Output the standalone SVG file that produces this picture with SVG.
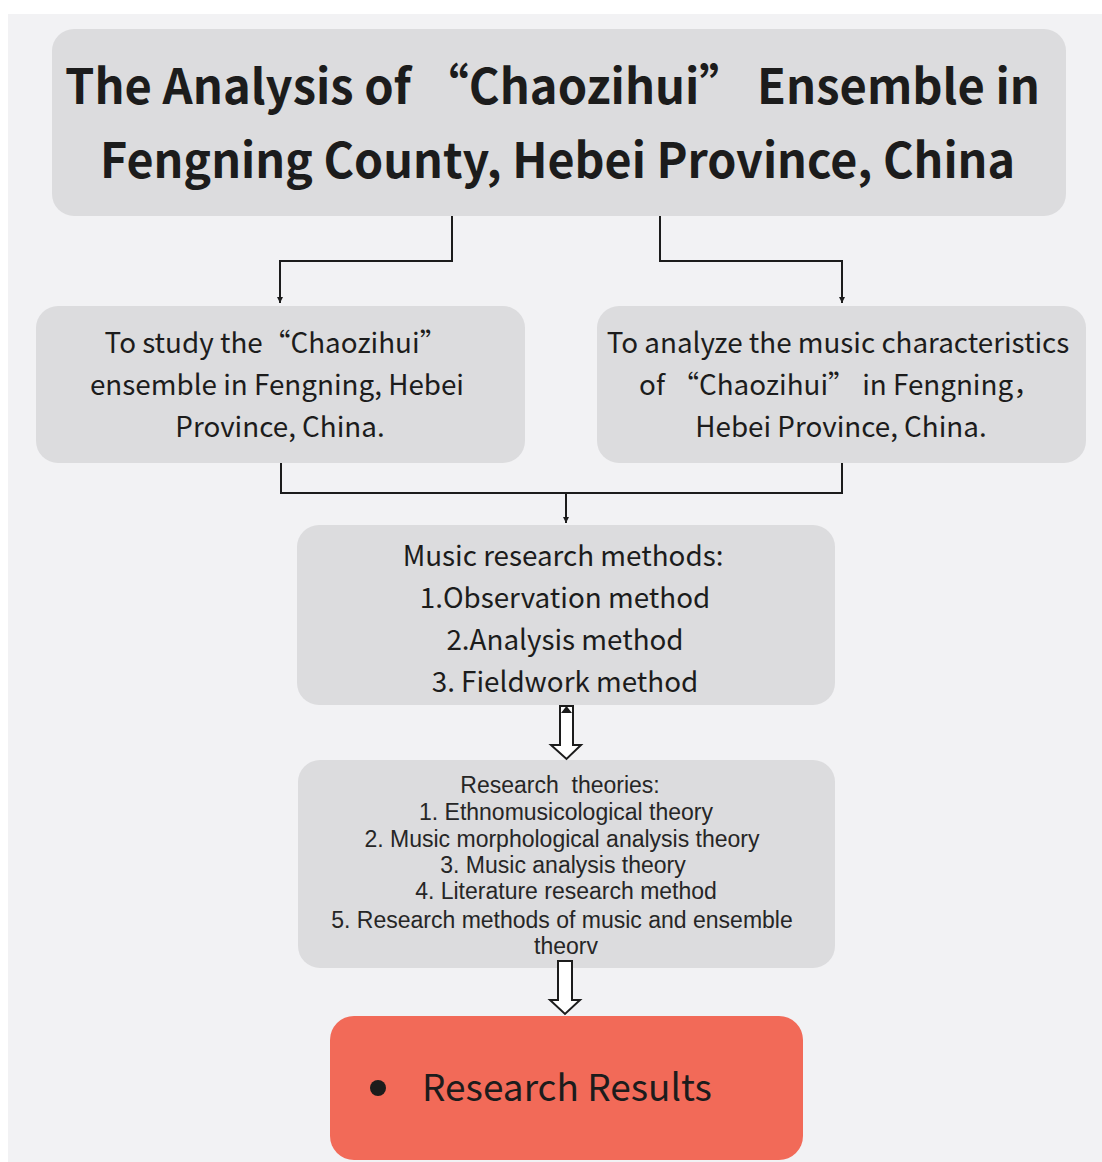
<svg xmlns="http://www.w3.org/2000/svg" width="1102" height="1162" viewBox="0 0 1102 1162">
<defs>
<style>
.box{fill:#dcdcde;}
.res{fill:#f26a58;}
.cjk{font-family:"Noto Sans CJK SC","Noto Sans",sans-serif;fill:#1c1c1c;text-anchor:middle;}
.title{font-size:48px;font-weight:700;}
.mid{font-size:27.8px;}
.thr{font-family:"Liberation Sans",Arial,sans-serif;font-size:23px;fill:#262626;text-anchor:middle;}
.conn{fill:none;stroke:#1c1c1c;stroke-width:2;}
.hollow{fill:#ffffff;stroke:#1c1c1c;stroke-width:2;stroke-linejoin:miter;}
</style>
<marker id="ah" viewBox="0 0 10 10" refX="10" refY="5" markerWidth="6" markerHeight="6" markerUnits="userSpaceOnUse" orient="auto">
<path d="M0,0 L10,5 L0,10 z" fill="#1c1c1c"/>
</marker>
</defs>
<rect x="0" y="0" width="1102" height="1162" fill="#ffffff"/>
<rect x="8" y="14" width="1094" height="1148" fill="#f2f2f4"/>

<g id="title">
<rect class="box" x="52" y="29" width="1014" height="187" rx="22"/>
<text class="cjk title" x="552.5" y="104" textLength="975" lengthAdjust="spacingAndGlyphs">The Analysis of “Chaozihui” Ensemble in</text>
<text class="cjk title" x="557.5" y="178" textLength="915" lengthAdjust="spacingAndGlyphs">Fengning County, Hebei Province, China</text>
</g>

<g id="objective1">
<rect class="box" x="36" y="306" width="489" height="157" rx="22"/>
<text class="cjk mid" x="276" y="353">To study the“Chaozihui”</text>
<text class="cjk mid" x="277" y="395">ensemble in Fengning, Hebei</text>
<text class="cjk mid" x="280" y="437">Province, China.</text>
</g>

<g id="objective2">
<rect class="box" x="597" y="306" width="489" height="157" rx="22"/>
<text class="cjk mid" x="838" y="353">To analyze the music characteristics</text>
<text class="cjk mid" x="840" y="395">of “Chaozihui” in Fengning，</text>
<text class="cjk mid" x="841" y="437">Hebei Province, China.</text>
</g>

<g id="methods">
<rect class="box" x="297" y="525" width="538" height="180" rx="22"/>
<text class="cjk mid" x="563" y="566">Music research methods:</text>
<text class="cjk mid" x="565" y="608">1.Observation method</text>
<text class="cjk mid" x="565" y="650">2.Analysis method</text>
<text class="cjk mid" x="565" y="692">3. Fieldwork method</text>
</g>

<g id="theories">
<rect class="box" x="298" y="760" width="537" height="208" rx="22"/>
<text class="thr" x="560" y="793" xml:space="preserve">Research  theories:</text>
<text class="thr" x="566" y="820">1. Ethnomusicological theory</text>
<text class="thr" x="562" y="847">2. Music morphological analysis theory</text>
<text class="thr" x="563" y="873">3. Music analysis theory</text>
<text class="thr" x="566" y="899">4. Literature research method</text>
<text class="thr" x="562" y="928">5. Research methods of music and ensemble</text>
<text class="thr" x="566" y="954">theorv</text>
</g>

<g id="results">
<rect class="res" x="330" y="1016" width="473" height="144" rx="24"/>
<circle cx="378" cy="1088" r="8" fill="#1c1c1c"/>
<text class="cjk" x="422" y="1101" style="font-size:37px;text-anchor:start">Research Results</text>
</g>

<g id="connectors">
<path class="conn" d="M452,216 V261 H280 V303" marker-end="url(#ah)"/>
<path class="conn" d="M660,216 V261 H842 V303" marker-end="url(#ah)"/>
<path class="conn" d="M281,463 V493 H842 V463"/>
<path class="conn" d="M566,493 V523" marker-end="url(#ah)"/>
<path class="hollow" d="M560,706 H573 V745 H581 L566.5,759 L551,745 H560 Z"/>
<path d="M561,713 L566.5,706 L572,713 Z" fill="#1c1c1c"/>
<path class="hollow" d="M558,961 H572 V1000 H580 L565,1014 L550,1000 H558 Z"/>
</g>
</svg>
